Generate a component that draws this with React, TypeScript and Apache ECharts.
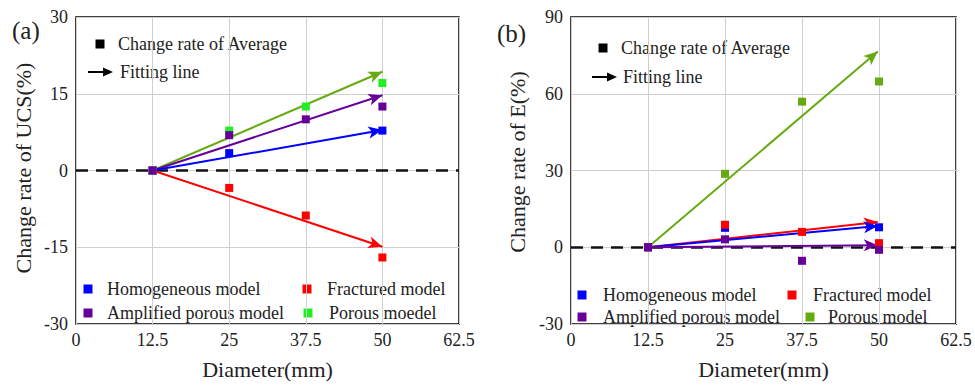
import { useEffect, useRef } from "react";
import * as echarts from "echarts";

const FONT = "'Liberation Serif', 'Times New Roman', serif";
const TEXT = "#222";

const diameters = [12.5, 25, 37.5, 50];

// (a) change rate of UCS (%)
const ucsHomogeneous = [0, 3.4, null, 7.8];
const ucsFractured = [0, -3.4, -8.8, -17.0];
const ucsAmplified = [0, 6.9, 10.0, 12.5];
const ucsPorous = [0, 7.8, 12.5, 17.1];
// fitting lines (start, end)
const ucsFitStart = [12.5, 0];
const ucsFitEndX = 50;
const ucsFitHomogeneous = 7.9;
const ucsFitFractured = -14.9;
const ucsFitAmplified = 14.7;
const ucsFitPorous = 19.3;

// (b) change rate of E (%)
const eHomogeneous = [0, 7.6, null, 7.8];
const eFractured = [0, 8.8, 6.0, 1.6];
const eAmplified = [0, 3.1, -5.3, -1.0];
const ePorous = [0, 28.7, 56.9, 64.8];
const eFitStart = [12.5, 0];
const eFitEndX = 49.8;
const eFitHomogeneous = 8.3;
const eFitFractured = 9.9;
const eFitAmplified = 0.8;
const eFitPorous = 76.5;

const legendA = ["Homogeneous model", "Fractured model", "Amplified porous model", "Porous moedel"];
const legendB = ["Homogeneous model", "Fractured model", "Amplified porous model", "Porous model"];

const BLUE = "#0000ff";
const RED = "#ff0000";
const PURPLE = "#660099";
const GREEN = "#22ee22";
const OLIVE = "#66aa11";

function pts(vals: (number | null)[]) {
  const out: number[][] = [];
  diameters.forEach((d, i) => {
    const v = vals[i];
    if (v !== null && v !== undefined) out.push([d, v]);
  });
  return out;
}

function scatter(idx: number, vals: (number | null)[], color: string) {
  return {
    type: "scatter",
    xAxisIndex: idx,
    yAxisIndex: idx,
    data: pts(vals),
    symbol: "rect",
    symbolSize: 8,
    itemStyle: { color, opacity: 1 },
    z: 5,
    silent: true,
  };
}

function fit(idx: number, start: number[], endX: number, endY: number, color: string) {
  return {
    type: "scatter",
    xAxisIndex: idx,
    yAxisIndex: idx,
    data: [start],
    symbolSize: 0,
    z: 3,
    silent: true,
    markLine: {
      silent: true,
      animation: false,
      symbol: ["none", "arrow"],
      symbolSize: [9, 14],
      label: { show: false },
      lineStyle: { color, width: 2, type: "solid", opacity: 1 },
      emphasis: { disabled: true },
      data: [[{ coord: start }, { coord: [endX, endY] }]],
    },
  };
}

function zeroLine(idx: number) {
  return {
    type: "scatter",
    xAxisIndex: idx,
    yAxisIndex: idx,
    data: [[12.5, 0]],
    symbolSize: 0,
    z: 4,
    silent: true,
    markLine: {
      silent: true,
      animation: false,
      symbol: ["none", "none"],
      label: { show: false },
      lineStyle: { color: "#111", width: 2.5, type: [12, 8], opacity: 1 },
      emphasis: { disabled: true },
      data: [{ yAxis: 0 }],
    },
  };
}

function legendGraphics(
  names: string[],
  colors: string[],
  sq: number[][],
  tx: number[][]
) {
  const els: any[] = [];
  names.forEach((n, i) => {
    els.push({
      type: "rect",
      shape: { x: sq[i][0] - 4.5, y: sq[i][1] - 4.5, width: 9, height: 9 },
      style: { fill: colors[i] },
    });
    els.push({
      type: "text",
      x: tx[i][0],
      y: tx[i][1],
      style: { text: n, font: `18px ${FONT}`, fill: TEXT, verticalAlign: "middle", align: "left" },
    });
  });
  return els;
}

function topLegend(sx: number, sy: number, tx1: number, ax0: number, ax1: number, ay: number, tx2: number) {
  return [
    { type: "rect", shape: { x: sx - 4.5, y: sy - 4.5, width: 9, height: 9 }, style: { fill: "#000" } },
    {
      type: "text",
      x: tx1,
      y: sy,
      style: { text: "Change rate of Average", font: `18px ${FONT}`, fill: TEXT, verticalAlign: "middle" },
    },
    { type: "line", shape: { x1: ax0, y1: ay, x2: ax1 - 6, y2: ay }, style: { stroke: "#000", lineWidth: 2 } },
    {
      type: "polygon",
      shape: { points: [[ax1, ay], [ax1 - 10, ay - 4.5], [ax1 - 10, ay + 4.5]] },
      style: { fill: "#000" },
    },
    {
      type: "text",
      x: tx2,
      y: ay,
      style: { text: "Fitting line", font: `18px ${FONT}`, fill: TEXT, verticalAlign: "middle" },
    },
  ];
}

function yTitle(text: string, x: number, y: number) {
  return {
    type: "text",
    x,
    y,
    rotation: Math.PI / 2,
    style: { text, font: `22px ${FONT}`, fill: TEXT, align: "center", verticalAlign: "middle" },
  };
}

function xAxis(idx: number) {
  return {
    type: "value",
    gridIndex: idx,
    min: 0,
    max: 62.5,
    interval: 12.5,
    name: "Diameter(mm)",
    nameLocation: "middle",
    nameGap: 34,
    nameTextStyle: { fontFamily: FONT, fontSize: 22, color: TEXT },
    axisLine: { show: false },
    axisTick: { show: false },
    axisLabel: { fontFamily: FONT, fontSize: 18, color: TEXT, margin: 7 },
    splitLine: { show: true, lineStyle: { color: "#cfcfcf", width: 1 } },
  };
}

function yAxis(idx: number, min: number, max: number, interval: number) {
  return {
    type: "value",
    gridIndex: idx,
    min,
    max,
    interval,
    axisLine: { show: false },
    axisTick: { show: false },
    axisLabel: { fontFamily: FONT, fontSize: 18, color: TEXT, margin: 8 },
    splitLine: { show: true, lineStyle: { color: "#cfcfcf", width: 1 } },
  };
}

export default function App() {
  const ref = useRef<HTMLDivElement>(null);
  useEffect(() => {
    if (!ref.current) return;
    const chart = echarts.init(ref.current, null, { renderer: "svg" });
    const option: any = {
      animation: false,
      backgroundColor: "#fff",
      grid: [
        { left: 76, top: 17, width: 383, height: 310, show: true, borderColor: "#000", borderWidth: 1.5, backgroundColor: "transparent" },
        { left: 571, top: 17, width: 385, height: 310, show: true, borderColor: "#000", borderWidth: 1.5, backgroundColor: "transparent" },
      ],
      xAxis: [xAxis(0), xAxis(1)],
      yAxis: [yAxis(0, -30, 30, 15), yAxis(1, -30, 90, 30)],
      series: [
        zeroLine(0),
        fit(0, ucsFitStart, ucsFitEndX, ucsFitPorous, OLIVE),
        fit(0, ucsFitStart, ucsFitEndX, ucsFitAmplified, PURPLE),
        fit(0, ucsFitStart, ucsFitEndX, ucsFitHomogeneous, BLUE),
        fit(0, ucsFitStart, ucsFitEndX, ucsFitFractured, RED),
        scatter(0, ucsFractured, RED),
        scatter(0, ucsHomogeneous, BLUE),
        scatter(0, ucsPorous, GREEN),
        scatter(0, ucsAmplified, PURPLE),

        zeroLine(1),
        fit(1, eFitStart, eFitEndX, eFitPorous, OLIVE),
        fit(1, eFitStart, eFitEndX, eFitFractured, RED),
        fit(1, eFitStart, eFitEndX, eFitHomogeneous, BLUE),
        fit(1, eFitStart, eFitEndX, eFitAmplified, PURPLE),
        scatter(1, ePorous, OLIVE),
        scatter(1, eHomogeneous, BLUE),
        scatter(1, eFractured, RED),
        scatter(1, eAmplified, PURPLE),
      ],
      graphic: [
        { type: "text", x: 12, y: 30, style: { text: "(a)", font: `25px ${FONT}`, fill: TEXT, verticalAlign: "middle" } },
        { type: "text", x: 497, y: 33, style: { text: "(b)", font: `25px ${FONT}`, fill: TEXT, verticalAlign: "middle" } },
        yTitle("Change rate of UCS(%)", 23, 168),
        yTitle("Change rate of E(%)", 517, 162),
        ...topLegend(100, 44, 118, 88, 113, 72, 120),
        ...topLegend(603, 48, 621, 592, 617, 77, 623),
        ...legendGraphics(
          legendA,
          [BLUE, RED, PURPLE, GREEN],
          [[88, 289], [307, 289], [88, 313], [308, 313]],
          [[107, 289], [327, 289], [107, 313], [329, 313]]
        ),
        ...legendGraphics(
          legendB,
          [BLUE, RED, PURPLE, OLIVE],
          [[582, 295], [792, 295], [582, 317], [810, 317]],
          [[603, 295], [813, 295], [603, 317], [828, 317]]
        ),
      ],
    };
    chart.setOption(option);
    return () => chart.dispose();
  }, []);
  return (
    <div
      ref={ref}
      style={{ position: "absolute", left: 0, top: 0, width: 975, height: 385, background: "#fff" }}
    />
  );
}
